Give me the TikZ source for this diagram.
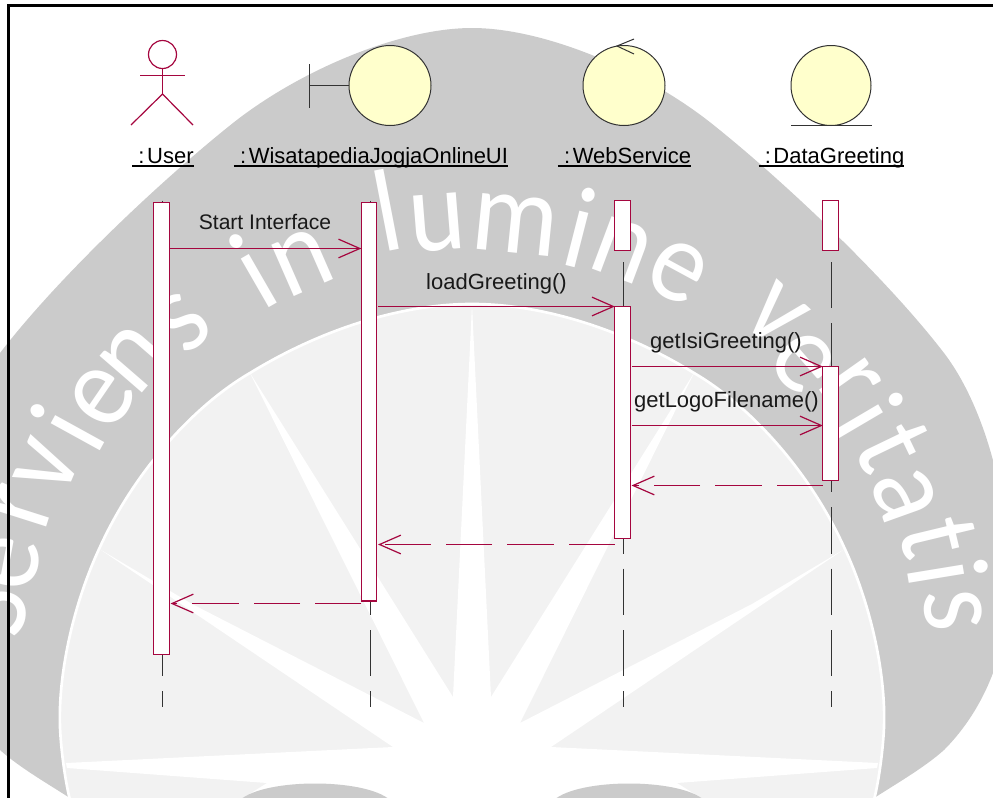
\documentclass[tikz,border=0pt]{standalone}
\usepackage{fontspec}
\setmainfont{Liberation Sans}
\newfontfamily\wmfont{Carlito}
\usetikzlibrary{arrows.meta}
\definecolor{umlred}{HTML}{A5063F}
\definecolor{umlyellow}{HTML}{FFFFCC}
\definecolor{umlink}{HTML}{333333}
\definecolor{wmgray}{HTML}{CBCBCB}
\definecolor{wmlight}{HTML}{F2F2F2}
\tikzset{
  bar/.style={draw=umlred,fill=white,line width=0.8pt,minimum width=11.5pt,inner sep=0pt,outer sep=0pt,anchor=north},
  msg/.style={draw=umlred,line width=0.75pt,-{Straight Barb[length=16pt,width=14pt,line width=0.9pt]}},
  ret/.style={msg,dash pattern=on 34.7pt off 11.3pt},
  life/.style={draw=umlink,line width=0.75pt,dash pattern=on 34.7pt off 11.3pt},
  stroke/.style={draw=umlink,line width=0.75pt},
  actorline/.style={draw=umlred,line width=0.9pt},
  title/.style={font=\fontsize{16.5pt}{18pt}\selectfont,text=black,inner sep=0pt,outer sep=0pt,anchor=south,text depth=0pt},
  msglabel/.style={font=\fontsize{16.5pt}{18pt}\selectfont,text=black!90,inner sep=0pt,anchor=base},
  under/.style={draw=black,line width=1.1pt},
  wmletter/.style={font=\wmfont\fontsize{88pt}{88pt}\selectfont,text=white,inner sep=0pt}
}
\begin{document}
\begin{tikzpicture}[x=0.75pt,y=-0.75pt]
\useasboundingbox (0,0) rectangle (993,797);
\clip (0,0) rectangle (993,797);
% watermark: shield
\fill[wmgray] (472,28)
  .. controls (400,28) and (300,70) .. (233,123)
  .. controls (165,177) and (60,275) .. (0,353)
  .. controls (-50,418) and (-85,560) .. (-49,673)
  .. controls (-35,710) and (-15,735) .. (0,750)
  .. controls (20,768) and (50,785) .. (73,800)
  -- (871,800)
  .. controls (894,785) and (924,768) .. (944,750)
  .. controls (959,735) and (979,710) .. (993,673)
  .. controls (1029,560) and (994,418) .. (944,353)
  .. controls (884,275) and (779,177) .. (711,123)
  .. controls (644,70) and (544,28) .. (472,28) -- cycle;
\path[fill=wmlight,draw=white,line width=2pt] (472,304)
  .. controls (400,304) and (320,330) .. (250,373)
  .. controls (195,405) and (135,470) .. (100,547)
  .. controls (75,600) and (58,670) .. (60,727)
  .. controls (61,750) and (65,780) .. (70,800)
  -- (874,800)
  .. controls (879,780) and (883,750) .. (884,727)
  .. controls (886,670) and (869,600) .. (844,547)
  .. controls (809,470) and (749,405) .. (694,373)
  .. controls (624,330) and (544,304) .. (472,304) -- cycle;
% watermark: rays
\fill[white] (472,305) -- (491,697) -- (694,373) -- (520,723) -- (752,604) -- (843,550) -- (551,747) -- (878,763) -- (877,768) -- (677,783) -- (704,800) -- (240,800) -- (267,783) -- (67,768) -- (66,763) -- (393,747) -- (101,550) -- (192,604) -- (424,723) -- (250,373) -- (453,697) -- cycle;
\fill[wmgray] (240,800) .. controls (265,778) and (365,778) .. (390,800) -- cycle;
\fill[wmgray] (554,800) .. controls (579,778) and (679,778) .. (704,800) -- cycle;
% watermark: motto
\foreach \ch/\px/\py [count=\k] in {S/-12/612,e/10/563,r/23/507,v/47/467,i/67/427,e/103/397,n/135/358,s/183/323,i/253/270,n/302/262,l/387/210,u/438/223,m/515/225,i/580/227,n/622/250,e/677/272,v/775/315,e/803/362,r/850/383,i/868/417,t/893/447,a/905/495,t/938/538,i/948/572,s/953/610}{
  \pgfmathsetmacro\rot{-atan2(\px-472,650-\py)}
  \node[wmletter,rotate=\rot] (wm\k) at (\px,\py) {\scalebox{0.92}[1]{\ch}};
}
% frame
\draw[black,line width=1.6pt] (993,5.5) -- (8.5,5.5) -- (8.5,800);
% life lines
\coordinate (topu) at (162,200.7);   \coordinate (botu) at (162,707);
\coordinate (topi) at (370,200.7);   \coordinate (boti) at (370,707);
\coordinate (topw) at (623.5,200.7); \coordinate (botw) at (623.5,707);
\coordinate (topd) at (831,200.7);   \coordinate (botd) at (831,707);
\draw[life] (topu) -- (botu);
\draw[life] (topi) -- (boti);
\draw[life] (topw) -- (botw);
\draw[life] (topd) -- (botd);
% actor
\node[draw=umlred,line width=0.9pt,circle,minimum size=21pt,inner sep=0pt,outer sep=0pt] (head) at (162.5,54.5) {};
\coordinate (hip) at (162.5,94);
\coordinate (armL) at (140,75.5);
\coordinate (armR) at (184.5,75.5);
\coordinate (footL) at (131,125);
\coordinate (footR) at (193,125);
\draw[actorline] (head.south) -- (hip);
\draw[actorline] (armL) -- (armR);
\draw[actorline] (footL) -- (hip) -- (footR);
% boundary
\coordinate (bt) at (309,64);
\coordinate (bb) at (309,108);
\coordinate (bm) at (309,85.5);
\draw[stroke] (bt) -- (bb);
\draw[stroke,fill=umlyellow] (390,85.5) ellipse [x radius=41,y radius=40];
\coordinate (ui) at (349,85.5);
\draw[stroke] (bm) -- (ui);
% control
\draw[stroke,fill=umlyellow] (624,85.5) ellipse [x radius=41,y radius=40];
\coordinate (ct) at (617,46);
\coordinate (c1) at (634,39);
\coordinate (c2) at (634,54);
\draw[stroke] (c1) -- (ct) -- (c2);
% entity
\draw[stroke,fill=umlyellow] (831,85.5) ellipse [x radius=40,y radius=40];
\coordinate (e1) at (791,125.5);
\coordinate (e2) at (872,125.5);
\draw[stroke] (e1) -- (e2);
% titles
\node[title] (tu) at (163,163.8) {\kern.278em:\kern.12em User};
\node[title] (ti) at (371,163.8) {\kern.278em:\kern.12em WisatapediaJogjaOnlineUI};
\node[title] (tw) at (624.5,163.8) {\kern.278em:\kern.12em WebService};
\node[title] (td) at (831.5,163.8) {\kern.278em:\kern.12em DataGreeting};
\draw[under] ([yshift=-1.7pt]tu.south west) -- ([yshift=-1.7pt]tu.south east);
\draw[under] ([yshift=-1.7pt]ti.south west) -- ([yshift=-1.7pt]ti.south east);
\draw[under] ([yshift=-1.7pt]tw.south west) -- ([yshift=-1.7pt]tw.south east);
\draw[under] ([yshift=-1.7pt]td.south west) -- ([yshift=-1.7pt]td.south east);
% activation bars
\node[bar,minimum height=338.5pt] (u1) at (161.5,202.7) {};
\node[bar,minimum height=298.7pt] (i1) at (369,202.7) {};
\node[bar,minimum height=37pt] (w0) at (622.5,200.7) {};
\node[bar,minimum height=173.7pt] (w1) at (622.5,306.7) {};
\node[bar,minimum height=37pt] (d0) at (830.5,200.7) {};
\node[bar,minimum height=85pt] (d1) at (830.5,366.7) {};
% messages
\draw[msg] (u1.east |- 0,248.5) -- (i1.west |- 0,248.5);
\draw[msg] ([xshift=1pt]i1.east |- 0,306.5) -- (w1.west |- 0,306.5);
\draw[msg] ([xshift=1pt]w1.east |- 0,366.5) -- (d1.west |- 0,366.5);
\draw[msg] ([xshift=1pt]w1.east |- 0,425.5) -- (d1.west |- 0,425.5);
\draw[ret] (d1.west |- 0,485.5) -- ([xshift=1pt]w1.east |- 0,485.5);
\draw[ret] (w1.west |- 0,544.5) -- ([xshift=1pt]i1.east |- 0,544.5);
\draw[ret] (i1.west |- 0,603.5) -- ([xshift=1pt]u1.east |- 0,603.5);
% message labels
\node[msglabel,font=\fontsize{15.8pt}{18pt}\selectfont] (m1) at (265,229) {Start Interface};
\node[msglabel] (m2) at (496.5,289) {loadGreeting()};
\node[msglabel] (m3) at (726,348) {getIsiGreeting()};
\node[msglabel] (m4) at (726.5,407) {getLogoFilename()};
\end{tikzpicture}
\end{document}
